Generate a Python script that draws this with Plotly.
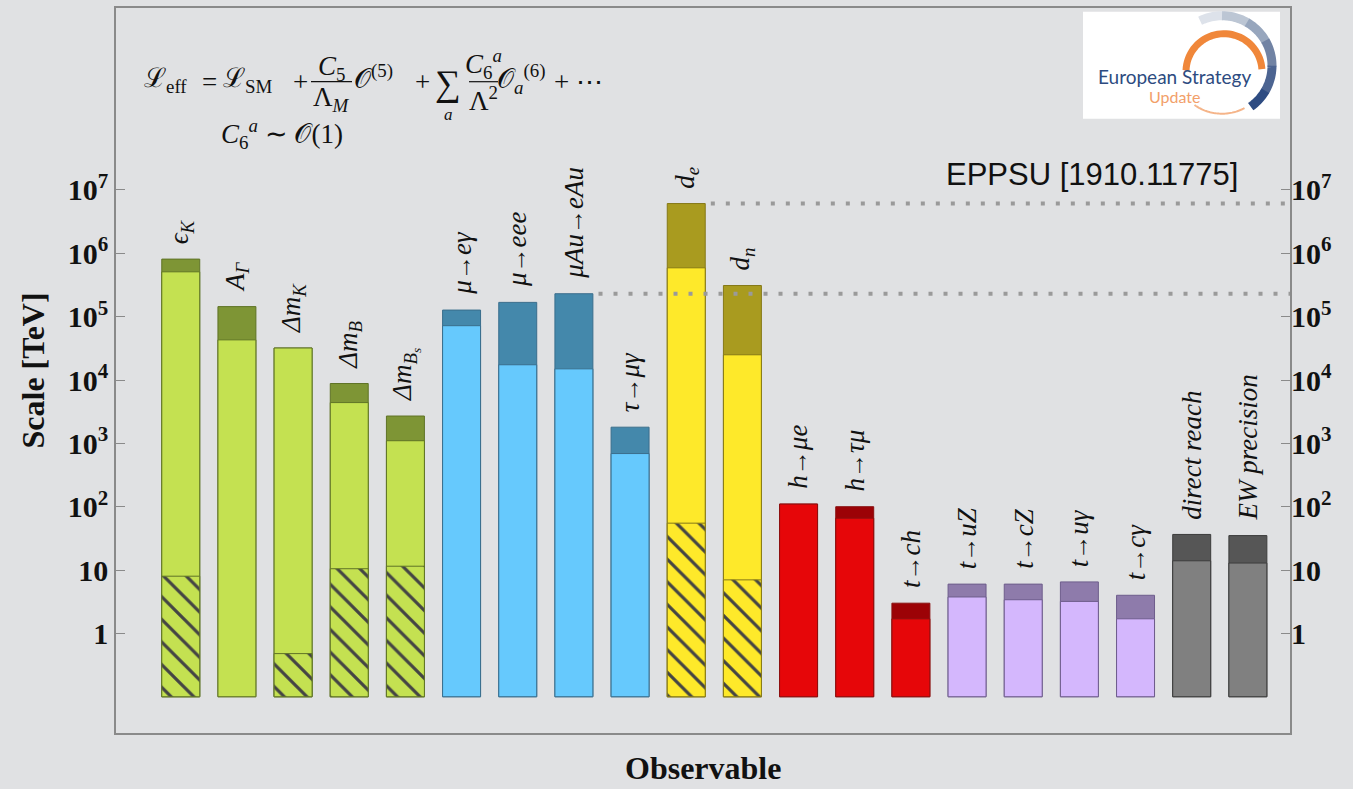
import math
import plotly.graph_objects as go

# ---------------- data ----------------
ARW = "<span style='font-size:25px'>→</span>"
labels = ["<i>ϵ<sub>K</sub></i>", "<i>A<sub>Γ</sub></i>", "<i>Δm<sub>K</sub></i>",
          "<i>Δm<sub>B</sub></i>", "<i>Δm<sub>B<sub>s</sub></sub></i>",
          f"<i>μ{ARW}eγ</i>", f"<i>μ{ARW}eee</i>", f"<i>μAu{ARW}eAu</i>", f"<i>τ{ARW}μγ</i>",
          "<i>d<sub>e</sub></i>", "<i>d<sub>n</sub></i>",
          f"<i>h{ARW}μe</i>", f"<i>h{ARW}τμ</i>", f"<i>t{ARW}ch</i>",
          f"<i>t{ARW}uZ</i>", f"<i>t{ARW}cZ</i>", f"<i>t{ARW}uγ</i>", f"<i>t{ARW}cγ</i>",
          "<i>direct reach</i>", "<i>EW precision</i>"]
groups = ["meson"] * 5 + ["lepton"] * 4 + ["edm"] * 2 + ["higgs"] * 3 + ["top"] * 4 + ["ew"] * 2
top_values = [8.1e5, 1.44e5, 3.2e4, 8.8e3, 2.7e3,
              1.27e5, 1.68e5, 2.3e5, 1.8e3,
              6.1e6, 3.1e5,
              110, 100, 3.0,
              6.0, 6.0, 6.5, 4.0,
              36.5, 35.0]
light_values = [5.1e5, 4.3e4, 3.2e4, 4.4e3, 1.1e3,
                7.2e4, 1.74e4, 1.5e4, 690,
                5.9e5, 2.5e4,
                110, 66, 1.7,
                3.76, 3.4, 3.2, 1.7,
                14.0, 12.9]
hatch_values = [8.0, None, 0.48, 10.5, 11.5,
                None, None, None, None,
                55.0, 7.0,
                None, None, None,
                None, None, None, None,
                None, None]
reference_lines = [6.1e6, 2.3e5]          # EPPSU dotted levels
reference_from = [9, 7]                    # bar index where each dotted line starts
tick_values = [1, 10, 1e2, 1e3, 1e4, 1e5, 1e6, 1e7]
tick_text = ["1", "10", "10<sup>2</sup>", "10<sup>3</sup>", "10<sup>4</sup>",
             "10<sup>5</sup>", "10<sup>6</sup>", "10<sup>7</sup>"]
BASE = 0.1

# ---------------- styles ----------------
LIGHT = {"meson": "#c4e151", "lepton": "#66c9fd", "edm": "#fee92a",
         "higgs": "#e60609", "top": "#d4b7fd", "ew": "#808080"}
DARK = {"meson": "#7e9535", "lepton": "#4488ab", "edm": "#a99b1f",
        "higgs": "#9c0206", "top": "#8e7bab", "ew": "#565656"}
EDGE = {"meson": "#5f7326", "lepton": "#3a6e8c", "edm": "#857817",
        "higgs": "#8a1010", "top": "#6e5d8c", "ew": "#3c3c3c"}

W, H = 1353, 789
L, R, T, B = 116, 1290, 8.3, 733.3
X0, X1 = -1.153, 19.75
Y0, Y1 = -1.572, 9.872
BAR_W = 0.676
BG = "#e0e1e3"
FRAME = "#8a8a8a"
SERIF = "Liberation Serif, Times New Roman, serif"


def px(x):
    return (x - L) / (R - L)


def py(y):
    return (B - y) / (B - T)


xs = list(range(len(labels)))
fig = go.Figure()

fig.add_trace(go.Bar(
    x=xs, y=[v - BASE for v in top_values], base=BASE, width=BAR_W,
    marker=dict(color=[DARK[g] for g in groups],
                line=dict(color=[EDGE[g] for g in groups], width=1)),
    hoverinfo="skip", showlegend=False))

fig.add_trace(go.Bar(
    x=xs, y=[v - BASE for v in light_values], base=BASE, width=BAR_W,
    marker=dict(color=[LIGHT[g] for g in groups],
                line=dict(color=[EDGE[g] for g in groups], width=1)),
    hoverinfo="skip", showlegend=False))

hx = [i for i, h in enumerate(hatch_values) if h is not None]
fig.add_trace(go.Bar(
    x=hx, y=[hatch_values[i] - BASE for i in hx], base=BASE, width=BAR_W,
    marker=dict(color=[LIGHT[groups[i]] for i in hx],
                line=dict(color=[EDGE[groups[i]] for i in hx], width=1),
                pattern=dict(shape=["\\"] * len(hx), fgcolor="#000000",
                             fgopacity=1, size=16, solidity=0.2,
                             fillmode="overlay")),
    hoverinfo="skip", showlegend=False))

# invisible trace to activate right axis
fig.add_trace(go.Scatter(x=[0], y=[1], yaxis="y2", mode="markers",
                         marker=dict(opacity=0), hoverinfo="skip", showlegend=False))

annotations = []
for i, (lab, t) in enumerate(zip(labels, top_values)):
    annotations.append(dict(x=i, y=math.log10(t), xref="x", yref="y", text=lab,
                            textangle=-90, xanchor="center", yanchor="bottom",
                            yshift=13, showarrow=False,
                            font=dict(family=SERIF, size=27, color="#111")))

shapes = []
for lvl, start in zip(reference_lines, reference_from):
    shapes.append(dict(type="line", xref="x", yref="y",
                       x0=start + BAR_W / 2 + 0.1, x1=X1,
                       y0=lvl, y1=lvl,
                       line=dict(color="#9a9a9a", width=4, dash="4px,11px")))

# axis titles
annotations.append(dict(x=px(32), y=0.5, xref="paper", yref="paper",
                        text="<b>Scale [TeV]</b>", textangle=-90, showarrow=False,
                        xanchor="center", yanchor="middle",
                        font=dict(family=SERIF, size=32, color="#111")))
annotations.append(dict(x=0.5, y=py(768), xref="paper", yref="paper",
                        text="<b>Observable</b>", showarrow=False,
                        xanchor="center", yanchor="middle",
                        font=dict(family=SERIF, size=32, color="#111")))
# citation
annotations.append(dict(x=px(944), y=py(175), xref="paper", yref="paper",
                        text="EPPSU [1910.11775]", showarrow=False,
                        xanchor="left", yanchor="middle",
                        font=dict(family="Liberation Sans, Arial, sans-serif",
                                  size=31, color="#111")))

# formula
fs = 27
def ftext(x, y, text, size=fs, xanchor="left"):
    annotations.append(dict(x=px(x), y=py(y), xref="paper", yref="paper",
                            text=text, showarrow=False, xanchor=xanchor,
                            yanchor="middle", borderpad=0,
                            font=dict(family=SERIF, size=size, color="#111")))

ftext(143, 80, "ℒ<sub>eff</sub>")
ftext(209, 82, "=", xanchor="center")
ftext(222, 80, "ℒ<sub>SM</sub>")
ftext(300, 82, "+", xanchor="center")
ftext(331, 68, "<i>C</i><sub>5</sub>", xanchor="center")
ftext(331, 99, "Λ<sub><i>M</i></sub>", xanchor="center")
ftext(353, 77, "𝒪<sup>(5)</sup>")
ftext(422, 82, "+", xanchor="center")
ftext(448, 83, "∑", size=36, xanchor="center")
ftext(448, 115, "<i>a</i>", size=17, xanchor="center")
ftext(483, 64, "<i>C</i><sub>6</sub><sup><i>a</i></sup>", xanchor="center")
ftext(483, 99, "Λ<sup>2</sup>", xanchor="center")
ftext(496, 79, "𝒪<sub><i>a</i></sub><sup>(6)</sup>")
ftext(553, 82, "+ ⋯")
ftext(220, 134, "<i>C</i><sub>6</sub><sup><i>a</i></sup> ∼ 𝒪(1)")
for x0, x1 in [(311, 352), (469, 498)]:
    shapes.append(dict(type="line", xref="paper", yref="paper",
                       x0=px(x0), x1=px(x1), y0=py(82), y1=py(82),
                       line=dict(color="#111", width=1.2)))

# logo
shapes.append(dict(type="rect", xref="paper", yref="paper", layer="above",
                   x0=px(1083), x1=px(1280), y0=py(12), y1=py(119),
                   fillcolor="white", line=dict(width=0)))


def arc_path(cx, cy, r, a0, a1, n=40):
    pts = []
    for k in range(n + 1):
        a = math.radians(a0 + (a1 - a0) * k / n)
        pts.append((px(cx + r * math.cos(a)), py(cy - r * math.sin(a))))
    return "M " + " L ".join(f"{x:.5f},{y:.5f}" for x, y in pts)


# blue gradient arc
blue_steps = [(116, 90, "#dde2ea"), (90, 60, "#bcc6d4"), (60, 30, "#97a6bd"),
              (30, 0, "#7183a4"), (0, -30, "#4c6491"), (-30, -55, "#2e4c82")]
for a0, a1, col in blue_steps:
    shapes.append(dict(type="path", xref="paper", yref="paper", layer="above",
                       path=arc_path(1222, 66, 50, a0, a1 - 1 if a1 > -55 else a1, 12),
                       line=dict(color=col, width=9)))
shapes.append(dict(type="path", xref="paper", yref="paper", layer="above",
                   path=arc_path(1224, 72, 38, 178, 4),
                   line=dict(color="#f0873a", width=7)))
shapes.append(dict(type="path", xref="paper", yref="paper", layer="above",
                   path=arc_path(1222, 66, 48, -125, -62),
                   line=dict(color="#f5b58a", width=2)))
annotations.append(dict(x=px(1174), y=py(77), xref="paper", yref="paper",
                        text="European Strategy", showarrow=False,
                        xanchor="center", yanchor="middle",
                        font=dict(family="Lato, sans-serif", size=19, color="#2d4b80")))
annotations.append(dict(x=px(1174), y=py(97), xref="paper", yref="paper",
                        text="Update", showarrow=False,
                        xanchor="center", yanchor="middle",
                        font=dict(family="Lato, sans-serif", size=16, color="#f2a06a")))

axis_common = dict(type="log", range=[Y0, Y1], tickvals=tick_values, ticktext=tick_text,
                   ticks="inside", ticklen=9, tickcolor=FRAME, tickwidth=1.2,
                   showgrid=False, zeroline=False,
                   tickfont=dict(family=SERIF, size=30, color="#111", weight="bold"))

fig.update_layout(
    width=W, height=H, barmode="overlay",
    margin=dict(l=L, r=W - R, t=T, b=H - B, autoexpand=False),
    paper_bgcolor=BG, plot_bgcolor="rgba(0,0,0,0)",
    xaxis=dict(range=[X0, X1], showticklabels=False, ticks="", showgrid=False,
               zeroline=False, showline=True, linecolor=FRAME, linewidth=1.5, mirror=True),
    yaxis=dict(**axis_common, showline=True, linecolor=FRAME, linewidth=1.5, mirror=True),
    yaxis2=dict(**axis_common, overlaying="y", side="right", showline=False),
    annotations=annotations, shapes=shapes,
)

fig.write_html("out.html", config={"displayModeBar": False},
               post_script="document.body.style.margin='0';"
                           "document.body.style.overflow='hidden';"
                           f"document.body.style.background='{BG}';")
